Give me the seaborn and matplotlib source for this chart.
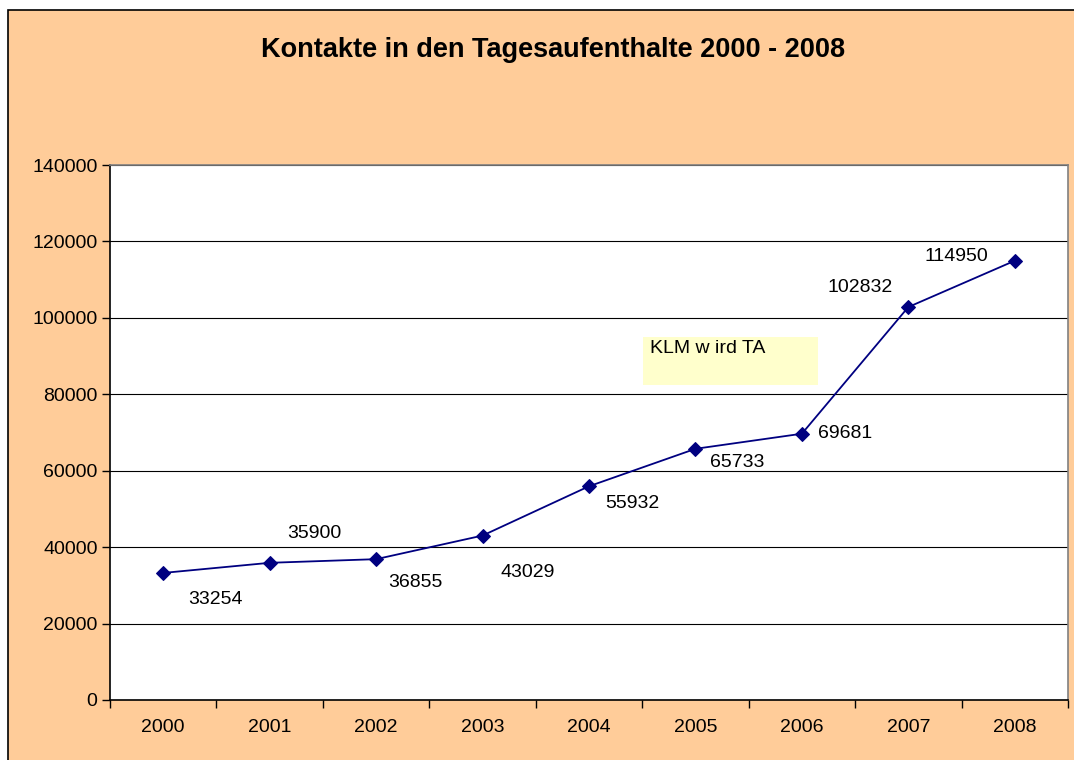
import numpy as np
import pandas as pd
import seaborn as sns
import matplotlib.pyplot as plt
from matplotlib.patches import Rectangle
from matplotlib.ticker import MultipleLocator, FixedLocator

# data
years = ['2000', '2001', '2002', '2003', '2004', '2005', '2006', '2007', '2008']
contacts = [33254, 35900, 36855, 43029, 55932, 65733, 69681, 102832, 114950]
note_text = 'KLM w ird TA'

df = pd.DataFrame({'pos': np.arange(len(years)), 'contacts': contacts})

# label offsets in pixels (dx, dy)
offsets = [(52, -27), (45, 29), (39, -23), (45, -37), (43, -17),
           (42, -14), (43, 0), (-48, 20), (-58, 4)]

sns.set_style('white')
plt.rcParams['font.family'] = ['Liberation Sans', 'DejaVu Sans']
plt.rcParams['text.color'] = 'black'
plt.rcParams['xtick.color'] = 'black'
plt.rcParams['ytick.color'] = 'black'

fig = plt.figure(figsize=(10.74, 7.6), dpi=100)
fig.patch.set_facecolor('white')
fig.patches.append(Rectangle((8 / 1074, -0.05), 1.1, 1 - 10 / 760 + 0.05,
                             transform=fig.transFigure, facecolor='#FFCC99',
                             edgecolor='black', linewidth=1.2, zorder=-10))

ax = fig.add_axes([110 / 1074, 60 / 760, 958 / 1074, 535 / 760])
ax.set_facecolor('white')

sns.lineplot(data=df, x='pos', y='contacts', ax=ax, color='#000080',
             marker='D', markersize=7, markeredgecolor='#000080',
             linewidth=1.3, zorder=5)

ax.set_xlim(-0.5, len(years) - 0.5)
ax.set_ylim(0, 140000)
ax.yaxis.set_major_locator(MultipleLocator(20000))
ax.set_xticks(df['pos'])
ax.set_xticklabels(years)
ax.xaxis.set_minor_locator(FixedLocator(np.arange(-0.5, len(years), 1)))
ax.tick_params(axis='x', which='major', bottom=True, length=0, pad=14,
               labelsize=14)
ax.tick_params(axis='x', which='minor', bottom=True, length=6, width=1,
               direction='out', color='black')
ax.tick_params(axis='y', left=True, length=6, width=1, direction='out',
               color='black', labelsize=14, pad=3)
ax.grid(axis='y', color='black', linewidth=0.8)
ax.set_axisbelow(True)
ax.set_xlabel('')
ax.set_ylabel('')

for s in ['left', 'bottom']:
    ax.spines[s].set_color('black')
    ax.spines[s].set_linewidth(1.2)
for s in ['top', 'right']:
    ax.spines[s].set_color('#808080')
    ax.spines[s].set_linewidth(1.2)

for x, y, (dx, dy) in zip(df['pos'], contacts, offsets):
    ax.annotate(str(y), (x, y), xytext=(dx, dy), textcoords='offset pixels',
                ha='center', va='center', fontsize=14, color='black')

# text box
ax.add_patch(Rectangle((4.51, 82430), 1.64, 12560, facecolor='#FFFFCC',
                       edgecolor='none', zorder=3))
ax.text(4.57, 91900, note_text, fontsize=14, va='center', ha='left', zorder=4)

fig.text(553 / 1074, 1 - 50 / 760, 'Kontakte in den Tagesaufenthalte 2000 - 2008',
         ha='center', va='center', fontsize=19.5, fontweight='bold')

fig.savefig('out.png', dpi=100, facecolor=fig.get_facecolor())
